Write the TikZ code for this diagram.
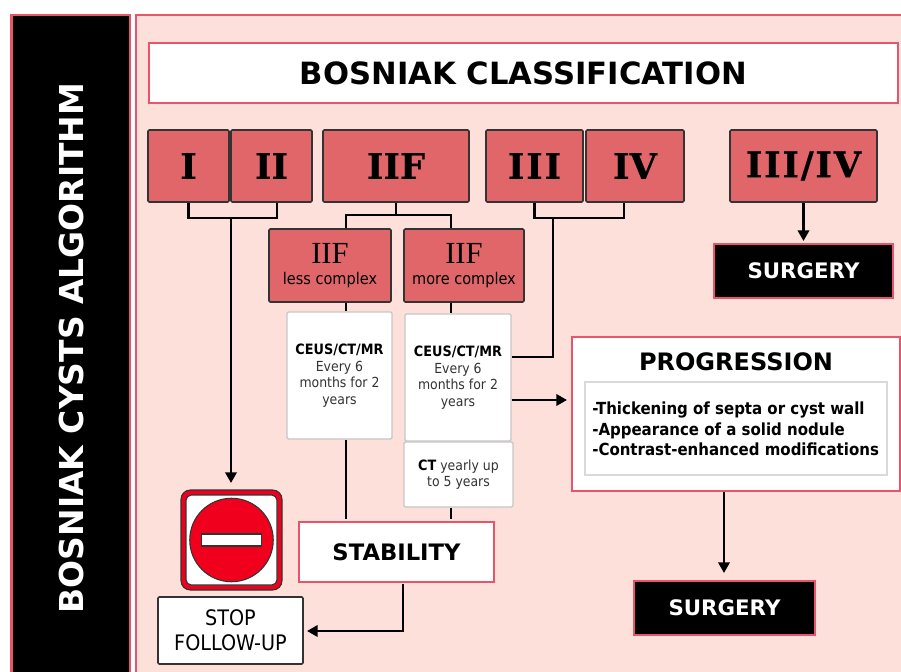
\documentclass[tikz,border=0pt]{standalone}
\usepackage{fontspec}
\setmainfont{DejaVu Sans}
\newfontfamily\slabfont[BoldFeatures={FakeBold=0.6}]{DejaVu Serif}
\newfontfamily\thinfont{Liberation Serif}
\newfontfamily\narrowfont{DejaVu Sans Condensed}
\usetikzlibrary{arrows.meta}
\definecolor{pnk}{HTML}{E9546B}
\definecolor{panelbg}{HTML}{FDE0D9}
\definecolor{classred}{HTML}{E0666A}
\definecolor{stopred}{HTML}{F0001C}
\tikzset{
  flowline/.style={draw=black,line width=1.9pt},
  flowarrow/.style={flowline,-{Triangle[length=8pt,width=8.5pt]}},
  pinkbox/.style={draw=pnk,line width=1.4pt,fill=white,text=black,align=center},
  classbox/.style={draw=black!80,line width=1.2pt,rounded corners=1pt,fill=classred,text=black,font=\slabfont\bfseries\fontsize{26.5}{26.5}\selectfont},
  subbox/.style={draw=black!80,line width=1.2pt,rounded corners=1pt,fill=classred,text=black,align=center},
  greybox/.style={draw=black!22,line width=1pt,fill=white,align=center,rounded corners=1pt,text=black!80,font=\narrowfont\fontsize{10.4}{12.4}\selectfont},
  surgerybox/.style={draw=pnk,line width=0.8pt,fill=black,text=white,font=\bfseries\fontsize{16}{16}\selectfont},
}
% px = (x, y) of the reference, y downwards
\newcommand{\pxbox}[7][]{\node[#2,#1,minimum width=#5*0.75pt-#3*0.75pt,minimum height=#6*0.75pt-#4*0.75pt,inner sep=0pt,anchor=center] (#7) at ({(#3+#5)/2},{(#4+#6)/2})}
\newcommand{\headtext}[1]{\textcolor{black}{\fontsize{10.7}{12.4}\selectfont\bfseries #1}}
\newcommand{\widely}{\addfontfeatures{LetterSpace=5}}
\begin{document}
\begin{tikzpicture}[x=0.75pt,y=-0.75pt]
  \useasboundingbox (0,0) rectangle (901,672);
  \begin{scope}
  \clip (0,0) rectangle (901,672);
  \fill[pnk] (10,14) rectangle (131,680);
  \fill[black] (12.5,16) rectangle (129,680);
  \draw[pnk,line width=1.4pt,fill=panelbg] (136,15) rectangle (910,690);
  \end{scope}
  \node[rotate=90,text=white,font=\bfseries\fontsize{24.7}{25}\selectfont] (algo) at (72,348) {BOSNIAK CYSTS ALGORITHM};
  \pxbox{pinkbox,font=\bfseries\fontsize{23}{23}\selectfont}{149}{43}{898}{103}{title} {BOSNIAK CLASSIFICATION};

  \pxbox{classbox}{148}{130}{229}{202}{one} {I};
  \pxbox{classbox}{231}{130}{312}{202}{two} {II};
  \pxbox{classbox}{323}{130}{469}{202}{iif} {IIF};
  \pxbox{classbox}{486}{130}{583}{202}{three} {\widely III};
  \pxbox{classbox}{586}{130}{684}{202}{four} {IV};
  \pxbox{classbox}{730}{130}{877}{202}{threefour} {\widely III/IV};
  \pxbox{surgerybox}{714}{244}{893}{298}{surgerya} {SURGERY};

  \pxbox{subbox}{269}{229}{391}{302}{iifless} {\thinfont\fontsize{23}{26}\selectfont IIF\\[4pt]\narrowfont\fontsize{12.1}{13}\selectfont less complex};
  \pxbox{subbox}{404}{229}{524}{302}{iifmore} {\thinfont\fontsize{23}{26}\selectfont IIF\\[4pt]\narrowfont\fontsize{12.1}{13}\selectfont more complex};

  \pxbox{greybox}{287}{312}{392}{439}{ceusa} {\headtext{CEUS/CT/MR}\\Every 6\\months for 2\\years};
  \pxbox{greybox}{405}{314}{511}{441}{ceusb} {\headtext{CEUS/CT/MR}\\Every 6\\months for 2\\years};
  \pxbox{greybox}{404}{442}{513}{507}{ctbox} {\headtext{CT} yearly up\\to 5 years};

  \pxbox{pinkbox,font=\bfseries\fontsize{17}{17}\selectfont}{299}{522}{494}{582}{stability} {STABILITY};
  \pxbox{pinkbox}{572}{337}{900}{491}{progress} {};
  \node[font=\bfseries\fontsize{18}{18}\selectfont] (progtitle) at (736,362) {PROGRESSION};
  \pxbox{greybox,draw=black!15,rounded corners=0pt}{585}{382}{887}{475}{signs} {};
  \node[anchor=west,align=left,inner sep=0pt,font=\narrowfont\bfseries\fontsize{12.5}{15.4}\selectfont] (signstext) at (592,429) {-Thickening of septa or cyst wall\\-Appearance of a solid nodule\\-Contrast-enhanced modifications};
  \pxbox{surgerybox}{634}{581}{815}{635}{surgeryb} {SURGERY};

  % stop sign
  \pxbox{subbox,fill=stopred,line width=0.8pt,rounded corners=7pt}{181}{490}{282}{590}{stopsign} {};
  \draw[black!80,line width=0.8pt,fill=white,rounded corners=4pt] (186,495) rectangle (277,585);
  \node[circle,draw=black!80,line width=0.8pt,fill=stopred,minimum size=83.5*0.75pt,inner sep=0pt] (disc) at (stopsign.center) {};
  \node[draw=black!80,line width=0.8pt,fill=white,minimum width=60*0.75pt,minimum height=12*0.75pt,inner sep=0pt] (bar) at (stopsign.center) {};

  \pxbox{subbox,fill=white,font=\narrowfont\fontsize{16}{19}\selectfont}{158}{597}{303}{664}{stopfu} {\raisebox{-1.5pt}{STOP}\\\raisebox{-1.5pt}{FOLLOW-UP}};

  % brackets
  \coordinate (lowjoin) at (231,218);
  \coordinate (lowright) at (277,218);
  \draw[flowline] (one.south) |- (lowright) -- (lowright |- two.south);
  \draw[flowarrow] (lowjoin) -- (231,483);
  \coordinate (lesstap) at (346,215);
  \coordinate (moretap) at (451,215);
  \draw[flowline] (iif.south) -- (iif.south |- lesstap);
  \draw[flowline] (lesstap |- iifless.north) -- (lesstap) -- (moretap) -- (moretap |- iifmore.north);
  \coordinate (highjoin) at (553,218);
  \coordinate (highright) at (624,218);
  \draw[flowline] (three.south) |- (highright) -- (highright |- four.south);
  \draw[flowline] (highjoin) |- (ceusb.east |- 0,357);
  % follow-up lines
  \draw[flowline] (lesstap |- iifless.south) -- (lesstap |- ceusa.north);
  \draw[flowline] (moretap |- iifmore.south) -- (moretap |- ceusb.north);
  \draw[flowline] (lesstap |- ceusa.south) -- (346,519);
  \draw[flowline] (moretap |- ctbox.south) -- (451,519);
  \coordinate (stabilityout) at (403,584);
  \draw[flowarrow] (stabilityout) |- (307,631);
  \draw[flowarrow] (ceusb.east |- 0,400) -- (567,400);
  \draw[flowarrow] (progress.south -| 724,0) -- (724,573);
  \draw[flowarrow] (threefour.south) -- (threefour.south |- 0,241);
\end{tikzpicture}
\end{document}
